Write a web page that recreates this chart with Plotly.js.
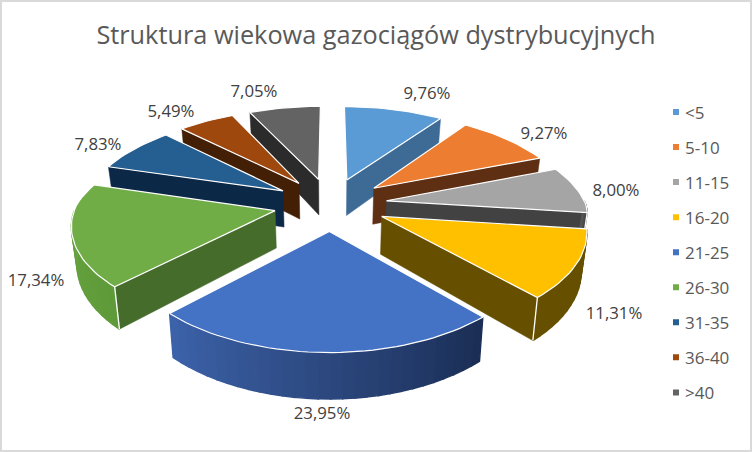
<!DOCTYPE html>
<html><head><meta charset="utf-8">
<script src="https://cdn.plot.ly/plotly-3.0.1.min.js"></script>
<style>html,body{margin:0;padding:0;background:#fff}#c{width:752px;height:452px}</style>
</head><body><div id="c"></div>
<script>
const categories=['<5','5-10','11-15','16-20','21-25','26-30','31-35','36-40','>40'];
const shares=[9.76,9.27,8.00,11.31,23.95,17.34,7.83,5.49,7.05];
const topColors=['#5b9bd5','#ed7d31','#a5a5a5','#ffc000','#4472c4','#70ad47','#255e91','#9e480e','#636363'];
const radialColors=['#3e6b96','#5f2f13','#424242','#665000','#2f4f88','#466c2c','#0c2847','#431f06','#2b2b2b'];
const outerFrom=['#3e6b96','#5f2f13','#5a5a5a','#665000','#1a2d54','#5f9a3a','#0c2847','#431f06','#2b2b2b'];
const outerTo=['#3e6b96','#5f2f13','#424242','#665000','#3d63aa','#67a33f','#0c2847','#431f06','#2b2b2b'];
const labelX=[427,544,616,614,322,36,98,171,254];
const labelY=[95,135,192,315,415,282,146,113,93];
const paintOrder=[8,0,7,1,6,2,5,3,4];

const cx=330.5,cy=204,Rx=199,Ry=92,kxFront=0.13,kxBack=0.18,ky=0.159,explode=0.285,H=37,shrink=0.978;
const rad=d=>d*Math.PI/180;
function project(X,Y,low){
  const sx=1/(1+(Y<0?kxFront:kxBack)*Y),sy=1/(1+ky*Y);
  let x=cx+Rx*X*sx,y=cy-Ry*Y*sy;
  if(low){x=cx+(x-cx)*shrink;y+=H*sy;}
  return [x,y];
}
function hex(c){return [1,3,5].map(i=>parseInt(c.substr(i,2),16));}
function mix(a,b,t){const A=hex(a),B=hex(b);return 'rgb('+A.map((v,i)=>Math.round(v+(B[i]-v)*t)).join(',')+')';}

const total=shares.reduce((a,b)=>a+b,0);
let run=0;
const slices=shares.map(v=>{const a1=run/total*360;run+=v;return {a1,a2:run/total*360};});
const traces=[];
function poly(pts,fill,lineColor,lineWidth){
  traces.push({type:'scatter',mode:'lines',x:pts.map(p=>p[0]),y:pts.map(p=>p[1]),fill:'toself',fillcolor:fill,
    line:{color:lineColor,width:lineWidth},hoverinfo:'skip',showlegend:false});
}
paintOrder.forEach(i=>{
  const {a1,a2}=slices[i],mid=rad((a1+a2)/2);
  const ox=explode*Math.sin(mid),oy=explode*Math.cos(mid);
  const rim=(d,low)=>project(ox+Math.sin(rad(d)),oy+Math.cos(rad(d)),low);
  const tip=low=>project(ox,oy,low);
  const edges=[];
  if(Math.sin(rad(a1))<0) {poly([tip(0),rim(a1,0),rim(a1,1),tip(1),tip(0)],radialColors[i],radialColors[i],0.5);edges.push(a1);}
  if(Math.sin(rad(a2))>0) {poly([tip(0),rim(a2,0),rim(a2,1),tip(1),tip(0)],radialColors[i],radialColors[i],0.5);edges.push(a2);}
  const s0=Math.max(a1,90),s1=Math.min(a2,270);
  if(s1>s0){
    const n=Math.max(2,Math.ceil((s1-s0)/3));
    for(let j=0;j<n;j++){
      const d0=s0+(s1-s0)*j/n,d1=s0+(s1-s0)*(j+1)/n;
      const c=mix(outerFrom[i],outerTo[i],(j+0.5)/n);
      poly([rim(d0,0),rim(d1,0),rim(d1,1),rim(d0,1),rim(d0,0)],c,c,1.4);
    }
    edges.filter(d=>d>=s0&&d<=s1).forEach(d=>{
      const p=rim(d,0),q=rim(d,1);
      traces.push({type:'scatter',mode:'lines',x:[p[0],q[0]],y:[p[1],q[1]],line:{color:'#fff',width:1.3},hoverinfo:'skip',showlegend:false});
    });
  }
  const top=[tip(0)];
  const m=Math.ceil((a2-a1)/2);
  for(let j=0;j<=m;j++) top.push(rim(a1+(a2-a1)*j/m,0));
  top.push(tip(0));
  poly(top,topColors[i],'#ffffff',1.2);
});
traces.push({type:'scatter',mode:'text',x:labelX,y:labelY,
  text:shares.map(v=>v.toFixed(2).replace('.',',')+'%'),textposition:'middle center',
  textfont:{family:'Open Sans, sans-serif',size:16.8,color:'#404040'},hoverinfo:'skip',showlegend:false});
categories.forEach((c,i)=>{
  traces.push({type:'scatter',mode:'markers',name:c,x:[null],y:[null],legendgroup:c,showlegend:true,
    marker:{symbol:'square',size:6,color:topColors[i]}});
});
const layout={
  width:752,height:452,margin:{l:0,r:0,t:0,b:0},paper_bgcolor:'#fff',plot_bgcolor:'#fff',
  title:{text:'Struktura wiekowa gazociągów dystrybucyjnych',x:0.5,xanchor:'center',y:0.922,yanchor:'middle',
    font:{family:'Open Sans, sans-serif',size:25.3,color:'#595959'}},
  xaxis:{range:[0,752],visible:false,fixedrange:true},
  yaxis:{range:[452,0],visible:false,fixedrange:true},
  legend:{x:0.8577,y:0.791,xanchor:'left',yanchor:'top',traceorder:'grouped',tracegroupgap:9.95,itemwidth:30,
    font:{family:'Open Sans, sans-serif',size:17,color:'#595959'},bgcolor:'rgba(0,0,0,0)'},
  shapes:[{type:'rect',xref:'paper',yref:'paper',x0:0,x1:1,y0:0,y1:1,line:{color:'#d9d9d9',width:4},fillcolor:'rgba(0,0,0,0)'}]
};
Plotly.newPlot('c',traces,layout,{displayModeBar:false,staticPlot:true}).then(()=>{
  // the reference has its legend swatches closer to the names than Plotly's minimum item width
  document.querySelectorAll('.legend .legendsymbols').forEach(n=>n.setAttribute('transform','translate(11,0)'));
});
</script></body></html>
